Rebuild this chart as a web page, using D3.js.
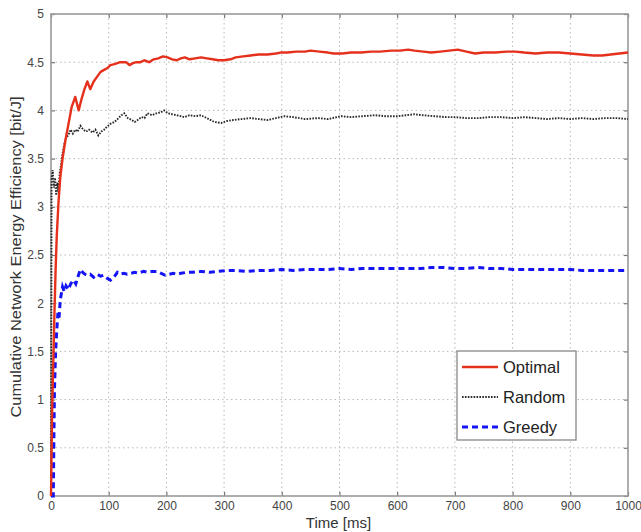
<!DOCTYPE html>
<html><head><meta charset="utf-8">
<script src="https://cdn.jsdelivr.net/npm/d3@7"></script>
<style>body{margin:0;background:#fff;} svg{display:block;}</style>
</head><body>
<svg id="c" width="641" height="532"></svg>
<script>
const seriesNames = ["Optimal", "Random", "Greedy"];
const xTicks = [0,100,200,300,400,500,600,700,800,900,1000];
const yTicks = [0,0.5,1,1.5,2,2.5,3,3.5,4,4.5,5];

const optimalT = [0,2,4,6,8,10,13,16,20,25,30,36,42,48,53,58,63,68,74,80,86,92,98,103,110,115,120,130,136,142,148,155,162,170,178,186,194,202,210,218,225,232,240,250,260,270,280,290,300,311,320,333,346,360,375,390,398,410,425,440,450,465,480,490,505,520,537,555,570,590,605,619,630,645,659,675,690,705,720,735,750,770,790,805,820,840,860,880,900,920,940,955,970,985,1000];
const optimalV = [0,0.9,1.4,1.9,2.35,2.7,3.05,3.3,3.5,3.69,3.85,4.04,4.14,4.0,4.12,4.22,4.3,4.22,4.3,4.35,4.4,4.42,4.44,4.47,4.48,4.49,4.5,4.5,4.47,4.49,4.5,4.5,4.52,4.5,4.53,4.54,4.56,4.55,4.53,4.52,4.54,4.55,4.53,4.54,4.55,4.54,4.53,4.52,4.52,4.53,4.55,4.56,4.57,4.58,4.58,4.59,4.6,4.6,4.61,4.61,4.62,4.61,4.6,4.59,4.59,4.6,4.6,4.61,4.61,4.62,4.62,4.63,4.62,4.61,4.6,4.61,4.62,4.63,4.61,4.59,4.6,4.6,4.61,4.61,4.6,4.59,4.6,4.6,4.59,4.58,4.57,4.57,4.58,4.59,4.6];

const randomT = [0,1,3,5,7,9,11,13,15,17,20,23,26,30,34,38,42,46,51,56,61,66,72,77,82,87,92,97,103,110,117,122,127,133,140,145,150,157,162,167,175,183,190,196,203,210,218,225,231,240,250,260,270,283,295,305,316,330,346,360,375,390,404,420,440,463,480,503,520,540,561,580,600,615,630,645,665,685,700,720,740,760,780,800,820,840,860,880,900,920,940,960,980,1000];
const randomV = [0,3.3,3.38,3.2,3.3,3.12,3.25,3.15,3.35,3.42,3.55,3.65,3.72,3.74,3.8,3.76,3.8,3.78,3.84,3.8,3.78,3.8,3.77,3.8,3.74,3.78,3.8,3.83,3.86,3.88,3.92,3.95,3.97,3.92,3.9,3.88,3.9,3.93,3.92,3.97,3.95,3.97,3.98,4.0,3.97,3.96,3.95,3.94,3.93,3.95,3.94,3.95,3.92,3.88,3.87,3.89,3.9,3.91,3.92,3.91,3.9,3.92,3.94,3.93,3.91,3.92,3.91,3.94,3.93,3.94,3.95,3.94,3.94,3.95,3.96,3.95,3.94,3.93,3.93,3.92,3.92,3.93,3.93,3.92,3.93,3.92,3.91,3.92,3.91,3.92,3.91,3.92,3.92,3.91];

const greedyT = [0,4,5,6,7,8,10,12,14,16,18,20,23,26,30,34,39,43,47,51,55,59,63,68,74,80,86,91,97,103,109,115,120,126,132,138,145,152,160,168,176,184,191,198,205,212,218,225,235,245,260,275,290,305,320,340,360,380,400,420,440,460,480,500,520,540,560,580,600,620,640,660,680,700,720,740,760,780,800,820,840,860,880,900,920,940,960,980,1000];
const greedyV = [0,0,0.6,1.1,1.3,1.5,1.72,1.9,1.85,2.03,2.1,2.17,2.12,2.18,2.14,2.2,2.24,2.2,2.28,2.35,2.32,2.3,2.29,2.3,2.27,2.3,2.28,2.29,2.26,2.24,2.27,2.32,2.3,2.31,2.3,2.31,2.32,2.31,2.33,2.32,2.33,2.33,2.31,2.29,2.3,2.31,2.3,2.31,2.32,2.32,2.33,2.32,2.33,2.34,2.34,2.33,2.34,2.34,2.35,2.34,2.35,2.35,2.35,2.36,2.35,2.36,2.36,2.36,2.36,2.36,2.36,2.37,2.37,2.36,2.36,2.37,2.36,2.36,2.35,2.35,2.35,2.35,2.35,2.35,2.34,2.34,2.34,2.34,2.34];

const L = 51, T = 14, R = 628, B = 496;
const svg = d3.select("#c");
const x = d3.scaleLinear().domain([0,1000]).range([L,R]);
const y = d3.scaleLinear().domain([0,5]).range([B,T]);
const font = "'Liberation Sans', Arial, sans-serif";

// grid
const g = svg.append("g");
g.selectAll("line.vx").data(xTicks.slice(1,-1)).join("line")
  .attr("x1", d=>x(d)).attr("x2", d=>x(d)).attr("y1", T).attr("y2", B)
  .attr("stroke", "#b8b8b8").attr("stroke-width", 1).attr("stroke-dasharray", "1.5,3");
g.selectAll("line.hy").data(yTicks.slice(1,-1)).join("line")
  .attr("y1", d=>y(d)).attr("y2", d=>y(d)).attr("x1", L).attr("x2", R)
  .attr("stroke", "#b8b8b8").attr("stroke-width", 1).attr("stroke-dasharray", "1.5,3");

// axes via d3
const axB = svg.append("g").attr("transform", `translate(0,${B})`)
  .call(d3.axisBottom(x).tickValues(xTicks).tickSize(-4).tickPadding(5).tickFormat(d3.format("d")));
const axT = svg.append("g").attr("transform", `translate(0,${T})`)
  .call(d3.axisTop(x).tickValues(xTicks).tickSize(-4).tickFormat(""));
const axL = svg.append("g").attr("transform", `translate(${L},0)`)
  .call(d3.axisLeft(y).tickValues(yTicks).tickSize(-4).tickPadding(7).tickFormat(d=>String(d)));
const axR = svg.append("g").attr("transform", `translate(${R},0)`)
  .call(d3.axisRight(y).tickValues(yTicks).tickSize(-4).tickFormat(""));
[axB,axT,axL,axR].forEach(a=>{
  a.select(".domain").remove();
  a.selectAll(".tick line").attr("stroke","#777").attr("stroke-width",1.2);
  a.selectAll(".tick text").attr("fill","#444").style("font-family",font).style("font-size","12px");
});
svg.append("rect").attr("x",L).attr("y",T).attr("width",R-L).attr("height",B-T)
  .attr("fill","none").attr("stroke","#999").attr("stroke-width",1.6);

// lines
const line = d3.line().x(d=>x(d[0])).y(d=>y(d[1]));
const zip = (a,b)=>a.map((t,i)=>[t,b[i]]);
svg.append("path").datum(zip(randomT,randomV)).attr("d",line)
  .attr("fill","none").attr("stroke","#2a2a2a").attr("stroke-width",1.9).attr("stroke-dasharray","1.6,1.3");
svg.append("path").datum(zip(greedyT,greedyV)).attr("d",line)
  .attr("fill","none").attr("stroke","#1414f5").attr("stroke-width",3).attr("stroke-dasharray","6,4");
svg.append("path").datum(zip(optimalT,optimalV)).attr("d",line)
  .attr("fill","none").attr("stroke","#e5301c").attr("stroke-width",2.4).attr("stroke-linejoin","round");

// axis titles
svg.append("text").attr("x",(L+R)/2-1).attr("y",528).attr("text-anchor","middle")
  .style("font-family",font).style("font-size","15px").attr("fill","#333").text("Time [ms]");
svg.append("text").attr("transform","translate(21,257) rotate(-90)").attr("text-anchor","middle")
  .style("font-family",font).style("font-size","14.5px").attr("fill","#333")
  .attr("textLength",321).attr("lengthAdjust","spacingAndGlyphs")
  .text("Cumulative Network Energy Efficiency [bit/J]");

// legend
const lg = svg.append("g");
lg.append("rect").attr("x",457).attr("y",351).attr("width",119).attr("height",89)
  .attr("fill","#fff").attr("stroke","#888").attr("stroke-width",1.3);
const styles = [
  {c:"#e5301c", w:2.4, dash:null},
  {c:"#2a2a2a", w:1.9, dash:"1.6,1.3"},
  {c:"#1414f5", w:3, dash:"6,4"}
];
seriesNames.forEach((n,i)=>{
  const yy = 367 + i*30;
  const s = styles[i];
  lg.append("line").attr("x1",462).attr("x2",498).attr("y1",yy).attr("y2",yy)
    .attr("stroke",s.c).attr("stroke-width",s.w).attr("stroke-dasharray",s.dash);
  lg.append("text").attr("x",503).attr("y",yy+6).style("font-family",font).style("font-size","16.5px")
    .attr("fill","#222").text(n);
});
</script>
</body></html>
